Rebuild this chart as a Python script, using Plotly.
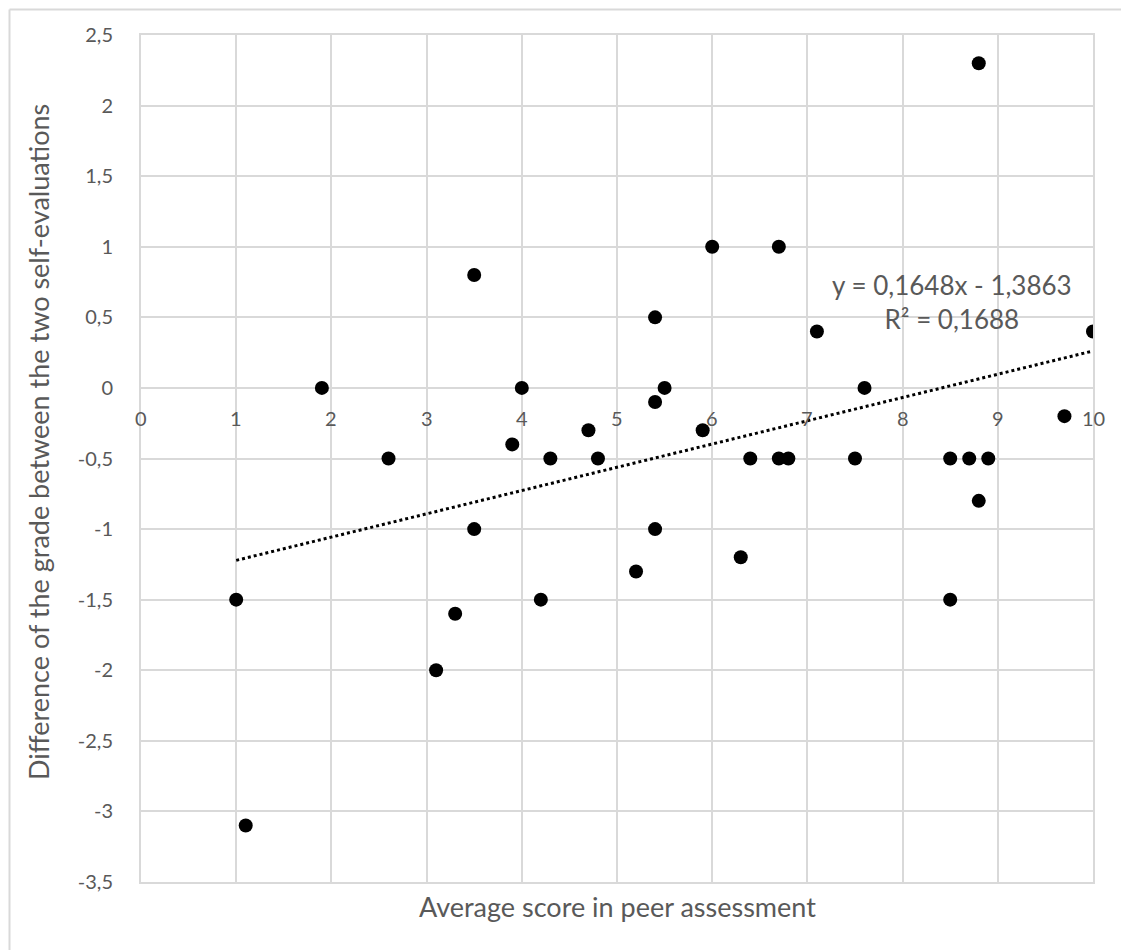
import plotly.graph_objects as go

# ---- data ----
peer_score = [1.0, 1.1, 1.9, 2.6, 3.1, 3.3, 3.5, 3.5, 3.9, 4.0, 4.2, 4.3, 4.7, 4.8,
              5.2, 5.4, 5.4, 5.4, 5.5, 5.9, 6.0, 6.3, 6.4, 6.7, 6.7, 6.8, 7.1, 7.5,
              7.6, 8.5, 8.5, 8.7, 8.8, 8.8, 8.9, 9.7, 10.0]
grade_diff = [-1.5, -3.1, 0.0, -0.5, -2.0, -1.6, 0.8, -1.0, -0.4, 0.0, -1.5, -0.5, -0.3, -0.5,
              -1.3, 0.5, -0.1, -1.0, 0.0, -0.3, 1.0, -1.2, -0.5, 1.0, -0.5, -0.5, 0.4, -0.5,
              0.0, -0.5, -1.5, -0.5, -0.8, 2.3, -0.5, -0.2, 0.4]

trend_slope = 0.1648
trend_intercept = -1.3863
trend_r2 = 0.1688
trend_x = [min(peer_score), max(peer_score)]

x_ticks = [0, 1, 2, 3, 4, 5, 6, 7, 8, 9, 10]
x_tick_text = ["0", "1", "2", "3", "4", "5", "6", "7", "8", "9", "10"]
y_ticks = [2.5, 2, 1.5, 1, 0.5, 0, -0.5, -1, -1.5, -2, -2.5, -3, -3.5]
y_tick_text = ["2,5", "2", "1,5", "1", "0,5", "0", "-0,5", "-1", "-1,5", "-2", "-2,5", "-3", "-3,5"]

x_title = "Average score in peer assessment"
y_title = "Difference of the grade between the two self-evaluations"

FONT = "Lato"
GRAY = "#595959"
GRID = "#d9d9d9"

fig = go.Figure()
fig.add_trace(go.Scatter(
    x=peer_score, y=grade_diff, mode="markers",
    marker=dict(color="black", size=14, line=dict(width=0)),
    showlegend=False, hoverinfo="x+y"))

fig.add_trace(go.Scatter(
    x=trend_x, y=[trend_slope * v + trend_intercept for v in trend_x],
    mode="lines", line=dict(color="black", width=3, dash="dot"),
    showlegend=False, hoverinfo="skip"))

# page body has an 8px margin; target pixel coordinates are page coordinates
OFF = 8
W, H = 1129 - OFF, 950 - OFF
L, R, T, B = 141 - OFF, 1093 - OFF, 35 - OFF, 882 - OFF
pw, ph = R - L, B - T


def px_x(p):
    return (p - OFF - L) / pw


def px_y(p):
    return 1 - (p - OFF - T) / ph


annotations = []
for v, t in zip(x_ticks, x_tick_text):
    annotations.append(dict(x=v, y=0, xref="x", yref="y", text=t, showarrow=False,
                            xanchor="center", yanchor="middle",
                            yshift=-30, font=dict(family=FONT, size=20, color=GRAY)))

annotations.append(dict(x=px_x(617), y=px_y(906), xref="paper", yref="paper", text=x_title,
                        xanchor="center", yanchor="middle",
                        showarrow=False, font=dict(family=FONT, size=27, color=GRAY)))
annotations.append(dict(x=px_x(38), y=px_y(442), xref="paper", yref="paper",
                        text=y_title, textangle=-90, showarrow=False,
                        xanchor="center", yanchor="middle",
                        font=dict(family=FONT, size=27, color=GRAY)))
annotations.append(dict(x=px_x(952), y=px_y(302), xref="paper", yref="paper",
                        xanchor="center", yanchor="middle",
                        text=f"y = {str(trend_slope).replace('.', ',')}x - {str(-trend_intercept).replace('.', ',')}"
                             f"<br>R² = {str(trend_r2).replace('.', ',')}",
                        showarrow=False, align="center",
                        font=dict(family=FONT, size=26, color=GRAY)))

shapes = [
    dict(type="line", xref="paper", yref="paper", x0=px_x(9.5), x1=px_x(9.5),
         y0=px_y(960), y1=px_y(9.5), line=dict(color=GRID, width=2)),
    dict(type="line", xref="paper", yref="paper", x0=px_x(9.5), x1=px_x(1140),
         y0=px_y(9.5), y1=px_y(9.5), line=dict(color=GRID, width=2)),
]

fig.update_layout(
    width=W, height=H,
    margin=dict(l=L, r=W - R, t=T, b=H - B),
    paper_bgcolor="white", plot_bgcolor="white",
    font=dict(family=FONT, color=GRAY),
    annotations=annotations, shapes=shapes,
    xaxis=dict(range=[0, 10], tickvals=x_ticks, showticklabels=False,
               showgrid=True, gridcolor=GRID, gridwidth=1.5,
               zeroline=False, showline=True, linecolor=GRID, linewidth=2, mirror=True,
               fixedrange=True),
    yaxis=dict(range=[-3.5, 2.5], tickvals=y_ticks, ticktext=y_tick_text,
               tickfont=dict(family=FONT, size=20, color=GRAY),
               ticks="outside", ticklen=22, tickcolor="rgba(0,0,0,0)",
               showgrid=True, gridcolor=GRID, gridwidth=1.5,
               zeroline=True, zerolinecolor=GRID, zerolinewidth=2,
               showline=True, linecolor=GRID, linewidth=2, mirror=True,
               fixedrange=True),
)

fig.write_html("out.html")
